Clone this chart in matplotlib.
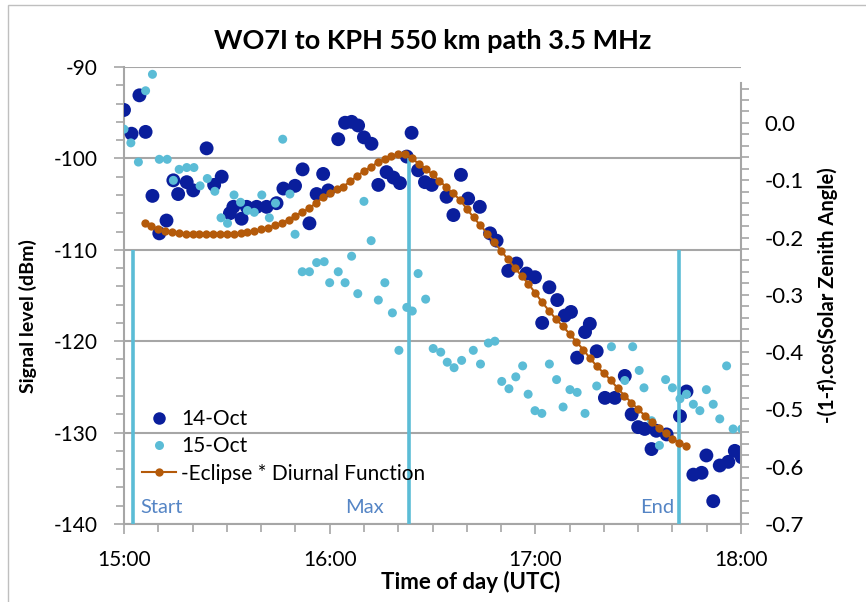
import matplotlib
matplotlib.use('Agg')
import matplotlib.pyplot as plt
from matplotlib.ticker import MultipleLocator, FixedLocator, FuncFormatter
from matplotlib.lines import Line2D
from matplotlib.patches import Rectangle

plt.rcParams['font.family'] = ['Lato', 'DejaVu Sans']
plt.rcParams['axes.unicode_minus'] = False

# minutes after 15:00 UTC and signal level (dBm)
oct14_min = [0, 2.2, 4.5, 6.3, 8.3, 10.3, 12.4, 14.4, 15.8, 18.3, 20.2, 24.1, 26.3, 28.5,
             30.9, 31.9, 34.3, 35.8, 38.7, 41.6, 44.5, 46.5, 49.9, 52.1, 54.1, 56.2, 58.1,
             59.6, 62.5, 64.5, 66.4, 68.3, 70.0, 72.2, 74.2, 76.6, 78.6, 80.5, 82.5, 83.9,
             85.8, 87.8, 89.8, 94.1, 96.1, 98.3, 100.4, 103.8, 106.8, 108.7, 112.1, 114.5,
             117.4, 119.9, 122.0, 124.1, 126.4, 128.6, 130.4, 132.2, 134.5, 135.9, 137.9,
             140.3, 143.2, 146.1, 148.1, 150.0, 151.9, 153.9, 155.3, 158.3, 162.2, 164.1,
             166.1, 168.5, 169.9, 171.9, 173.8, 176.3, 178.2, 180.2]
oct14_dbm = [-94.7, -97.3, -93.1, -97.1, -104.1, -108.2, -106.8, -102.4, -103.9, -102.6,
             -103.5, -98.9, -102.9, -102.0, -106.0, -105.3, -106.6, -105.3, -105.3, -105.3,
             -104.9, -103.3, -103.0, -101.2, -107.1, -103.9, -101.7, -103.5, -97.9, -96.1,
             -96.0, -96.4, -97.7, -98.4, -102.9, -101.5, -102.1, -102.7, -99.8, -97.2,
             -101.3, -102.6, -102.9, -104.2, -106.2, -101.8, -104.4, -105.3, -108.2, -109.0,
             -112.3, -111.5, -112.6, -113.0, -118.0, -114.1, -115.5, -117.2, -116.8, -121.8,
             -119.0, -118.1, -121.1, -126.2, -126.2, -123.8, -128.0, -129.4, -129.6, -131.8,
             -129.8, -130.2, -128.2, -125.5, -134.6, -134.4, -132.5, -137.5, -133.6, -133.2,
             -132.0, -132.7]

oct15_min = [0, 2.0, 4.2, 6.3, 8.3, 10.3, 12.6, 14.4, 16.1, 18.3, 20.4, 22.2, 24.3, 26.5,
             28.3, 30.2, 32.1, 34.0, 36.0, 38.0, 40.2, 42.4, 44.2, 46.3, 48.4, 49.9, 52.0,
             54.1, 56.2, 58.4, 60.0, 62.5, 64.5, 66.4, 68.2, 70.0, 72.1, 74.2, 76.1, 78.3,
             80.2, 82.5, 84.1, 85.8, 88.0, 90.2, 92.4, 94.3, 96.3, 98.5, 101.9, 104.0, 106.3,
             108.2, 110.2, 112.3, 114.3, 116.3, 117.9, 119.9, 121.9, 124.1, 126.2, 128.1,
             130.1, 132.2, 134.5, 137.9, 142.2, 146.1, 148.4, 150.3, 151.7, 153.9, 156.2,
             158.0, 160.0, 162.2, 164.1, 166.1, 168.0, 169.9, 171.9, 173.8, 175.8, 177.7,
             180.2]
oct15_dbm = [-96.8, -98.3, -100.4, -92.6, -90.8, -100.1, -100.1, -102.4, -101.2, -101.0,
             -101.0, -103.0, -102.2, -103.6, -106.5, -107.1, -104.0, -104.8, -105.7, -105.9,
             -104.0, -106.5, -104.9, -97.9, -103.9, -108.3, -112.4, -112.4, -111.4, -111.3,
             -113.6, -112.4, -113.6, -110.7, -114.8, -104.7, -109.0, -115.5, -113.6, -116.9,
             -121.0, -116.3, -116.7, -112.6, -115.4, -120.8, -121.2, -122.3, -122.9, -122.1,
             -121.0, -122.5, -120.2, -120.0, -124.4, -125.2, -123.9, -122.7, -125.8, -127.6,
             -127.9, -122.5, -124.2, -127.2, -125.3, -125.6, -127.9, -124.9, -120.6, -124.3,
             -120.6, -123.2, -125.1, -128.7, -131.4, -124.2, -125.1, -126.3, -125.8, -126.9,
             -127.6, -125.3, -126.9, -128.5, -122.7, -129.6, -129.6]

# -Eclipse * diurnal function, one point every 2 minutes
eclipse_min = [6, 8, 10, 12, 14, 16, 18, 20, 22, 24, 26, 28, 30, 32, 34, 36, 38, 40,
               42, 44, 46, 48, 50, 52, 54, 56, 58, 60, 62, 64, 66, 68, 70, 72, 74, 76,
               78, 80, 82, 84, 86, 88, 90, 92, 94, 96, 98, 100, 102, 104, 106, 108, 110,
               112, 114, 116, 118, 120, 122, 124, 126, 128, 130, 132, 134, 136, 138, 140,
               142, 144, 146, 148, 150, 152, 154, 156, 158, 160, 162, 164]
eclipse_val = [-0.175, -0.180, -0.185, -0.188, -0.191, -0.192, -0.193, -0.193, -0.193,
               -0.193, -0.193, -0.193, -0.193, -0.193, -0.192, -0.190, -0.188, -0.186,
               -0.183, -0.179, -0.175, -0.169, -0.162, -0.156, -0.149, -0.140, -0.130,
               -0.123, -0.116, -0.111, -0.102, -0.093, -0.084, -0.077, -0.069, -0.063,
               -0.058, -0.054, -0.055, -0.061, -0.072, -0.080, -0.090, -0.101, -0.112,
               -0.123, -0.134, -0.150, -0.165, -0.179, -0.193, -0.208, -0.223, -0.238,
               -0.253, -0.267, -0.281, -0.297, -0.313, -0.328, -0.342, -0.355, -0.368,
               -0.382, -0.396, -0.411, -0.425, -0.437, -0.449, -0.463, -0.476, -0.488,
               -0.500, -0.511, -0.522, -0.533, -0.542, -0.551, -0.558, -0.564]

event_min = [2.6, 83.0, 162.0]
event_top = [-110, -100, -110]
event_labels = ['Start', 'Max', 'End']
event_label_min = [4.7, 64.5, 150.5]


def hours(mins):
    return [15 + m / 60.0 for m in mins]


grey = '#A6A6A6'
dark = '#0A1E9C'
light = '#5BBCD6'
brown = '#B45A0A'
label_blue = '#5585C5'

fig = plt.figure(figsize=(8.66, 6.02), dpi=100)
# outer chart frame
fig.patches.append(Rectangle((8 / 866, -0.05), 1.2, 1.05 - 5 / 602,
                             transform=fig.transFigure, fill=False, edgecolor='#BFBFBF',
                             lw=1.0))
ax1 = fig.add_axes([124 / 866, 1 - 524 / 602, (741 - 124) / 866, (524 - 67) / 602])
ax2 = ax1.twinx()

# scatter data on the left axis
ax1.scatter(hours(oct14_min), oct14_dbm, s=100, color=dark, edgecolors='none', zorder=3)
ax1.scatter(hours(oct15_min), oct15_dbm, s=42, color=light, edgecolors='none', zorder=4)

# eclipse start / max / end markers
for m, top, lab, lm in zip(event_min, event_top, event_labels, event_label_min):
    ax1.plot([15 + m / 60.0] * 2, [-140, top], color=light, lw=2.6, zorder=5,
             solid_capstyle='butt')
    ax1.text(15 + lm / 60.0, -138.2, lab, color=label_blue, fontsize=14.5,
             ha='left', va='center')

ax1.set_xlim(15, 18)
ax1.set_ylim(-140, -90)
ax1.yaxis.set_major_locator(MultipleLocator(10))
ax1.yaxis.set_minor_locator(MultipleLocator(2))
ax1.xaxis.set_major_locator(FixedLocator([15, 16, 17, 18]))
ax1.xaxis.set_minor_locator(MultipleLocator(1 / 6.0))
ax1.xaxis.set_major_formatter(FuncFormatter(lambda v, p: '%d:00' % round(v)))
ax1.yaxis.set_major_formatter(FuncFormatter(lambda v, p: '%d' % round(v)))
ax1.grid(axis='y', which='major', color=grey, lw=1.5)
ax1.set_axisbelow(True)
for side in ['top', 'right']:
    ax1.spines[side].set_visible(False)
for side in ['left', 'bottom']:
    ax1.spines[side].set_color(grey)
    ax1.spines[side].set_linewidth(1.5)
ax1.tick_params(which='both', direction='out', color=grey, width=1.2, labelsize=15)
ax1.tick_params(which='major', length=7)
ax1.tick_params(which='minor', length=6)
ax1.tick_params(axis='x', pad=12)
ax1.tick_params(axis='y', pad=12)
ax1.set_xlabel('Time of day (UTC)', fontsize=16, fontweight='bold')
ax1.xaxis.set_label_coords(0.561, -0.103)
ax1.set_ylabel('Signal level (dBm)', fontsize=14, fontweight='bold')
ax1.yaxis.set_label_coords(-0.141, 0.455)

# eclipse function on the right axis
ax2.plot(hours(eclipse_min), eclipse_val, color=brown, lw=1.5, marker='o', ms=6,
         markeredgewidth=0)
ax2.set_ylim(-0.7, 0.0976)
ax2.yaxis.set_major_locator(FixedLocator([0.0, -0.1, -0.2, -0.3, -0.4, -0.5, -0.6, -0.7]))
ax2.yaxis.set_minor_locator(FixedLocator([0.06 - 0.02 * i for i in range(39)]))
ax2.yaxis.set_major_formatter(FuncFormatter(lambda v, p: '%.1f' % v if abs(v) > 1e-9 else '0.0'))
for side in ['top', 'left', 'bottom']:
    ax2.spines[side].set_visible(False)
ax2.spines['right'].set_color(grey)
ax2.spines['right'].set_linewidth(1.5)
ax2.spines['right'].set_bounds(-0.7, 0.07)
ax2.tick_params(which='both', direction='out', color=grey, width=1.2, labelsize=16)
ax2.tick_params(which='major', length=6, pad=11)
ax2.tick_params(which='minor', length=6)
ax2.set_ylabel('-(1-f).cos(Solar Zenith Angle)', fontsize=14.5, fontweight='bold',
               labelpad=10)

handles = [Line2D([], [], ls='none', marker='o', ms=9, color=dark, markeredgewidth=0),
           Line2D([], [], ls='none', marker='o', ms=6.5, color=light, markeredgewidth=0),
           Line2D([], [], color=brown, lw=1.5, marker='o', ms=6, markeredgewidth=0)]
ax2.legend(handles, ['14-Oct', '15-Oct', '-Eclipse * Diurnal Function'], loc='upper left',
           bbox_to_anchor=(0.015, 0.269), frameon=False, fontsize=15, handlelength=1.65,
           handletextpad=0.25, labelspacing=0.34, borderaxespad=0)

fig.text(0.5, 1 - 41 / 602, 'WO7I to KPH 550 km path 3.5 MHz', fontsize=19.5,
         fontweight='bold', ha='center', va='center')

fig.savefig('out.png', dpi=100)
